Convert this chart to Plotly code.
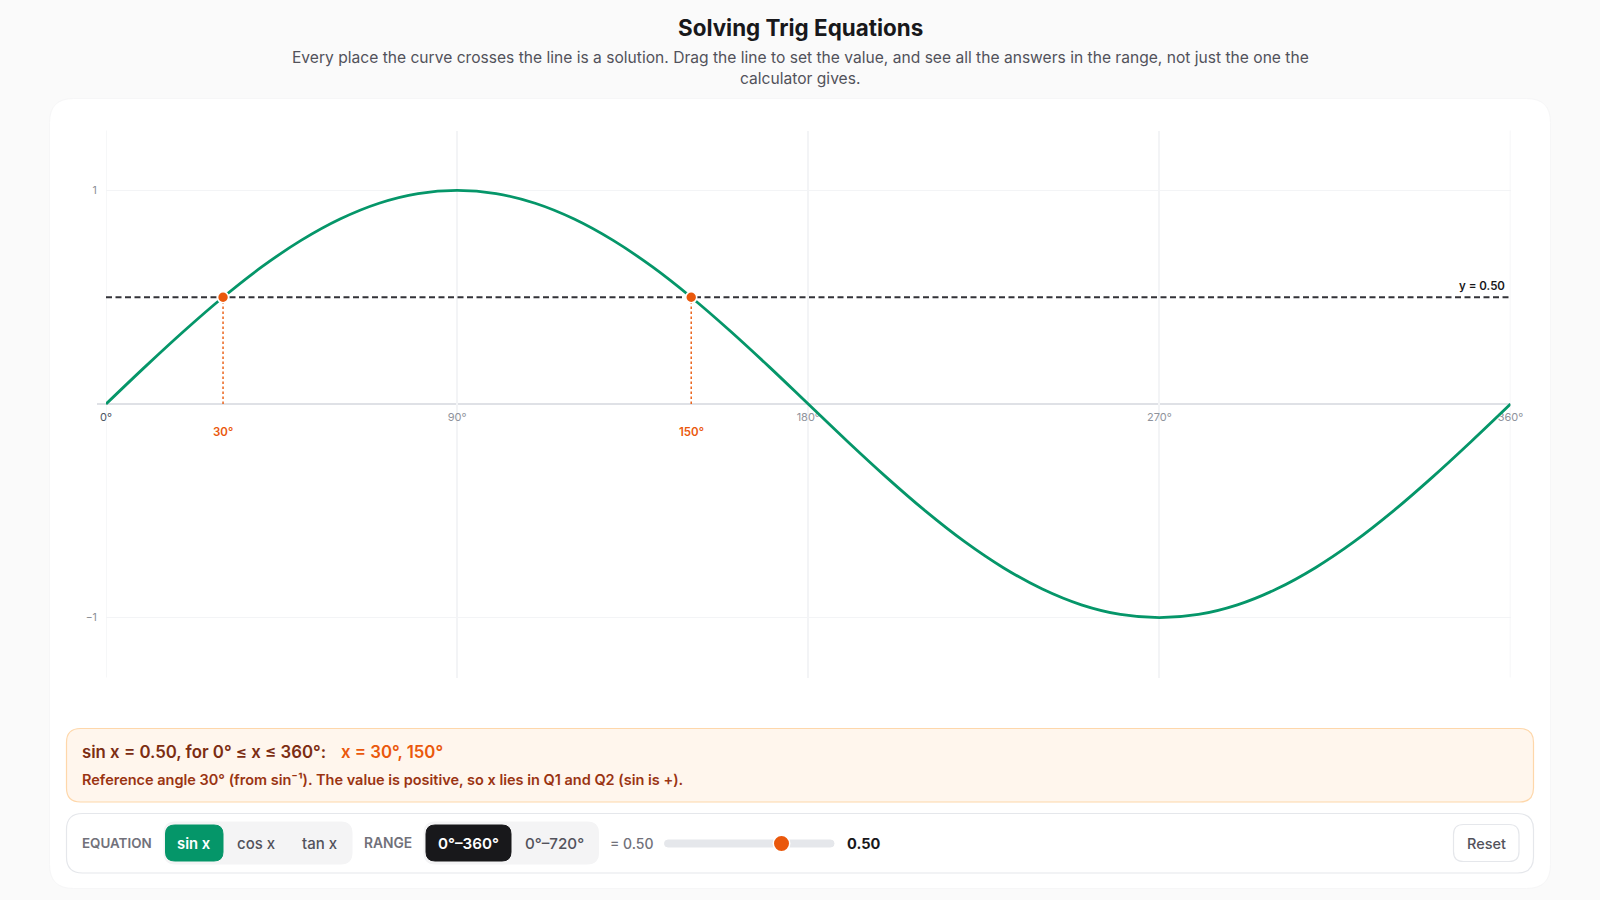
import plotly.graph_objects as go

WIDTH = 1600
HEIGHT = 900
FONT = "Inter"

# values
angles = [0, 10, 20, 30, 40, 50, 60, 70, 80, 90, 100, 110, 120, 130, 140, 150, 160, 170, 180,
          190, 200, 210, 220, 230, 240, 250, 260, 270, 280, 290, 300, 310, 320, 330, 340, 350, 360]
sin_values = [0, 0.174, 0.342, 0.5, 0.643, 0.766, 0.866, 0.94, 0.985, 1, 0.985, 0.94, 0.866, 0.766,
              0.643, 0.5, 0.342, 0.174, 0, -0.174, -0.342, -0.5, -0.643, -0.766, -0.866, -0.94,
              -0.985, -1, -0.985, -0.94, -0.866, -0.766, -0.643, -0.5, -0.342, -0.174, 0]
line_x = [0, 360]
line_y = [0.5, 0.5]
solutions_x = [30, 150]
solutions_y = [0.5, 0.5]
solution_labels = ['30°', '150°']
x_ticks = [0, 90, 180, 270, 360]
x_tick_labels = ['<span style="color:#4b5563">0°</span>', '90°', '180°', '270°', '360°']
x_edges = [0, 360]
y_ticks = [-1, 1]
y_tick_labels = ['−1', '1']

GREEN = '#059669'
ORANGE = '#ea580c'
GRID = '#f3f4f6'


def px(x):
    return x / WIDTH


def py(y):
    return 1 - y / HEIGHT


def round_rect(x0, y0, x1, y1, r, fill, line=None, line_width=1):
    # rounded box from page pixels, plotly paths do not convert arcs so use Q
    a, b, c, d = px(x0), px(x1), py(y0), py(y1)
    rx, ry = r / WIDTH, r / HEIGHT
    path = (f'M {a + rx} {c} L {b - rx} {c} Q {b} {c} {b} {c - ry} L {b} {d + ry} Q {b} {d} {b - rx} {d} '
            f'L {a + rx} {d} Q {a} {d} {a} {d + ry} L {a} {c - ry} Q {a} {c} {a + rx} {c} Z')
    return dict(type='path', xref='paper', yref='paper', path=path, fillcolor=fill, layer='below',
                line=dict(color=line or fill, width=line_width))


def label(x, y, text, size, color, anchor='left', weight=400):
    return dict(xref='paper', yref='paper', x=px(x), y=py(y), text=text, showarrow=False,
                xanchor=anchor, yanchor='middle', borderpad=0,
                font=dict(family=FONT, size=size, color=color, weight=weight))


fig = go.Figure()

fig.add_trace(go.Scatter(x=line_x, y=line_y, mode='lines', hoverinfo='skip',
                         line=dict(color='#333338', width=1.9, dash='6px,3.5px')))
fig.add_trace(go.Scatter(x=angles, y=sin_values, mode='lines', cliponaxis=False,
                         line=dict(color=GREEN, width=2.8, shape='spline')))
for sx, sy in zip(solutions_x, solutions_y):
    fig.add_trace(go.Scatter(x=[sx, sx], y=[0, sy], mode='lines', hoverinfo='skip',
                             line=dict(color=ORANGE, width=1.4, dash='2.5px,2.5px')))
fig.add_trace(go.Scatter(x=solutions_x, y=solutions_y, mode='markers', cliponaxis=False,
                         marker=dict(color=ORANGE, size=11, line=dict(color='white', width=1.6))))

shapes = [
    round_rect(49.5, 98.5, 1550.5, 888.5, 24, '#ffffff', '#f6f6f7', 1),
]
for edge in x_edges:
    shapes.append(dict(type='line', xref='x', yref='paper', x0=edge, x1=edge, y0=py(677.5), y1=py(130.6),
                       layer='below', line=dict(color=GRID, width=1.5)))
shapes += [
    dict(type='line', xref='paper', yref='y', x0=px(97), x1=px(1510.5), y0=0, y1=0, layer='below',
         line=dict(color='#d5d7de', width=1.6)),
    round_rect(66.5, 728.5, 1533.5, 802, 14, '#fff6ed', '#fed7aa', 1.2),
    round_rect(66.5, 813.5, 1533.5, 873, 16, '#ffffff', '#e5e7eb', 1.2),
    round_rect(164, 822, 352, 864, 11, '#f4f4f5'),
    round_rect(165.5, 825, 223, 861, 9, GREEN),
    round_rect(424, 822, 598.5, 864, 11, '#f4f4f5'),
    round_rect(426, 825, 511, 861, 9, '#18181b'),
    round_rect(664.5, 840, 834, 847, 3.5, '#e5e7eb'),
    round_rect(1453.5, 824.5, 1519, 861.5, 10, '#ffffff', '#e5e7eb', 1.2),
    dict(type='circle', xref='paper', yref='paper', x0=px(772.5), x1=px(790.5), y0=py(852.5), y1=py(834.5),
         fillcolor='#ffffff', line=dict(width=0), layer='below'),
    dict(type='circle', xref='paper', yref='paper', x0=px(774), x1=px(789), y0=py(851), y1=py(836),
         fillcolor=ORANGE, line=dict(width=0), layer='below'),
]

annotations = [
    label(800, 28, 'Solving Trig Equations', 22.4, '#18181b', 'center', 700),
    label(800, 57, 'Every place the curve crosses the line is a solution. Drag the line to set the value, '
                   'and see all the answers in the range, not just the one the', 15.6, '#52525b', 'center'),
    label(800, 79, 'calculator gives.', 15.6, '#52525b', 'center'),
    label(81, 752, 'sin x = 0.50, for 0° ≤ x ≤ 360°:', 16.8, '#7c2d12', 'left', 600),
    label(339.5, 752, 'x = 30°, 150°', 16.8, ORANGE, 'left', 600),
    label(81, 779.5, 'Reference angle 30° (from sin⁻¹). The value is positive, so x lies in Q1 and Q2 (sin is +).',
          14.5, '#9a3412', 'left', 600),
    label(80.5, 843, 'EQUATION', 13.4, '#71717a', 'left', 600),
    label(194, 843.5, 'sin x', 14.8, '#ffffff', 'center', 600),
    label(256, 843.5, 'cos x', 15, '#52525b', 'center', 500),
    label(319, 843.5, 'tan x', 15, '#52525b', 'center', 500),
    label(363, 843, 'RANGE', 13.8, '#71717a', 'left', 600),
    label(468.5, 843.5, '0°–360°', 15.2, '#ffffff', 'center', 600),
    label(554.5, 843.5, '0°–720°', 15.2, '#52525b', 'center', 500),
    label(609, 843.5, '= 0.50', 14, '#71717a', 'left', 500),
    label(845.5, 843.5, '0.50', 14.6, '#18181b', 'left', 700),
    label(1486, 843.5, 'Reset', 14.5, '#52525b', 'center', 500),
    dict(x=360, y=0.5, xref='x', yref='y', text='y = 0.50', showarrow=False, xanchor='right', yanchor='middle',
         xshift=-4, yshift=11, font=dict(family=FONT, size=11.5, color='#18181b', weight=600)),
]
for sx, text in zip(solutions_x, solution_labels):
    annotations.append(dict(x=sx, y=0, xref='x', yref='y', text=text, showarrow=False, yanchor='middle',
                            yshift=-28, font=dict(family=FONT, size=11.5, color=ORANGE, weight=600)))

fig.update_layout(
    width=WIDTH, height=HEIGHT, margin=dict(l=0, r=0, t=0, b=0, autoexpand=False),
    paper_bgcolor='#fafafa', plot_bgcolor='rgba(0,0,0,0)',
    showlegend=False, shapes=shapes, annotations=annotations,
    # x axis sits on y = 0, labels go under the curve like the original
    xaxis=dict(domain=[px(106), px(1510.5)], range=[0, 360], tickvals=x_ticks, ticktext=x_tick_labels,
               anchor='free', position=py(404.4), layer='below traces',
               ticks='outside', ticklen=2, tickcolor='rgba(0,0,0,0)',
               tickfont=dict(family=FONT, size=11, color='#8f939c'),
               showgrid=True, gridcolor=GRID, gridwidth=1.5, zeroline=False, showline=False),
    yaxis=dict(domain=[py(677.5), py(130.6)], range=[-1.28, 1.28], tickvals=y_ticks, ticktext=y_tick_labels,
               ticks='outside', ticklen=6, tickcolor='rgba(0,0,0,0)',
               showgrid=True, gridcolor=GRID, gridwidth=1.2, zeroline=False, showline=False,
               tickfont=dict(family=FONT, size=10.5, color='#8a8d94')),
)

fig.write_html("out.html", config={'displayModeBar': False},
               post_script="document.body.style.margin = '0';")
